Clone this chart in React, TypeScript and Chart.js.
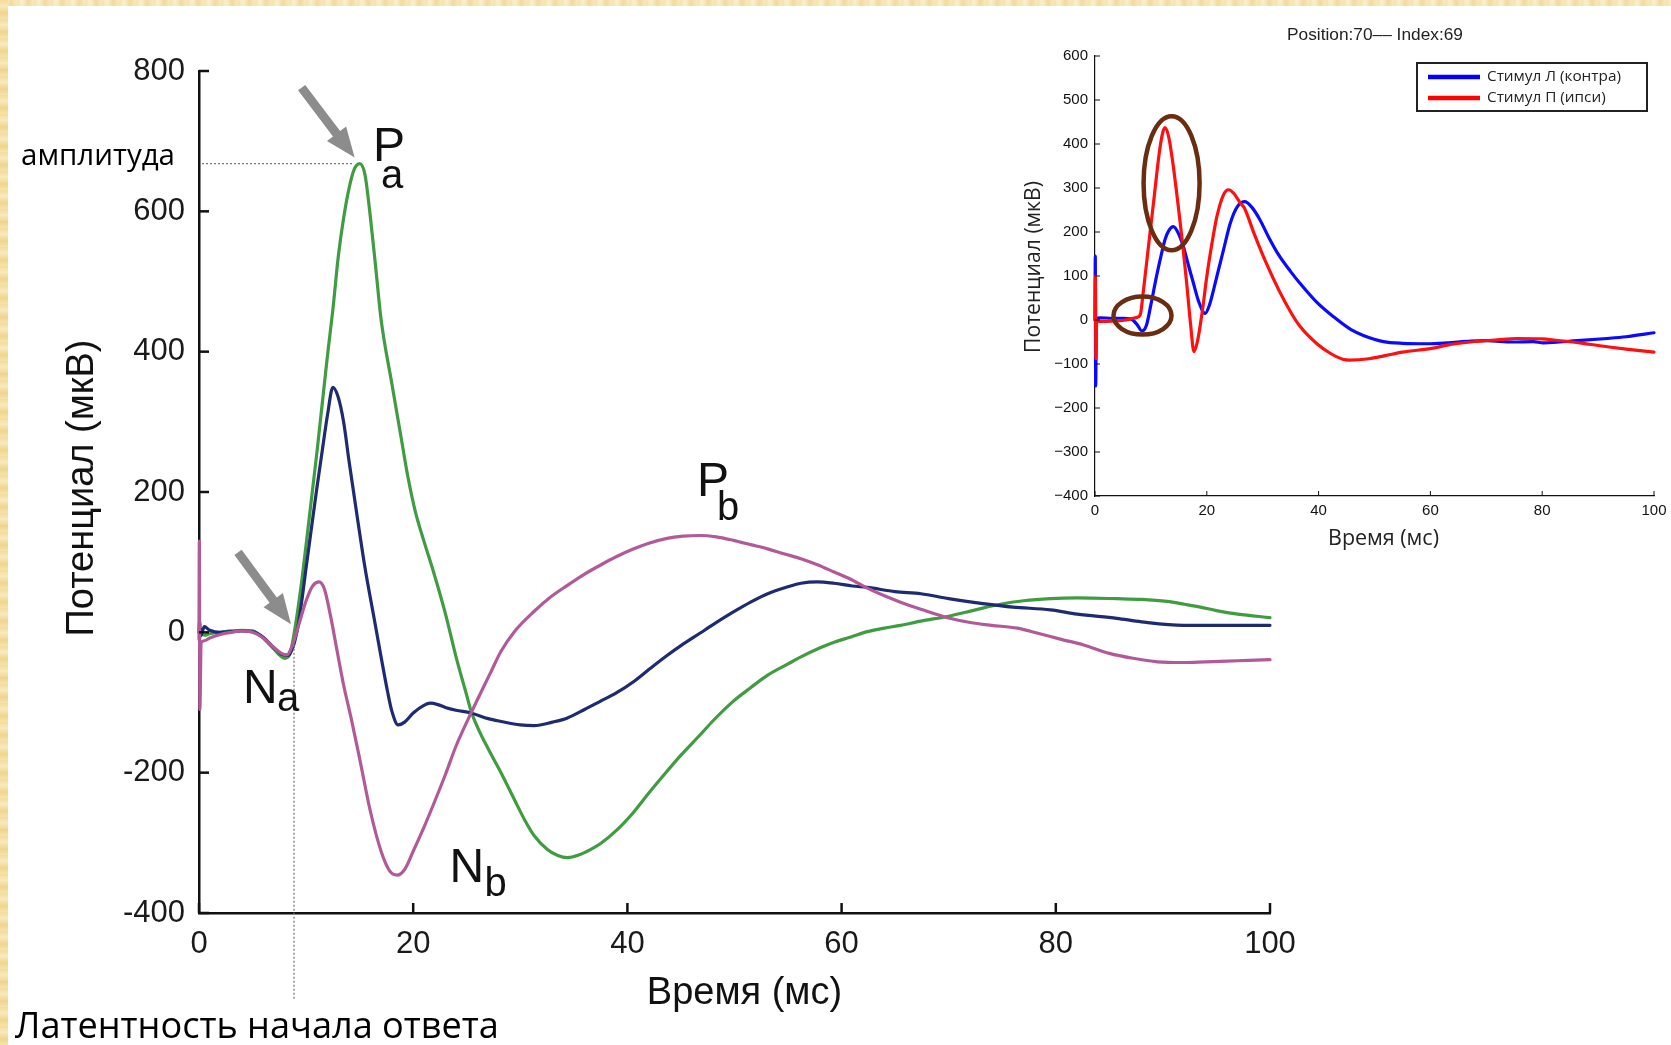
import React, { useEffect, useRef } from 'react';
import { Chart, registerables } from 'chart.js';

Chart.register(...registerables);

const HELV = '"Liberation Sans", Arial, Helvetica, sans-serif';
const OFFICE = '"Open Sans", "Noto Sans", sans-serif';

// ---------------- MAIN CHART DATA ----------------
const mainXTicks = [0, 20, 40, 60, 80, 100];
const mainYTicks = [-400, -200, 0, 200, 400, 600, 800];

const greenT = [0, 0.5, 1, 2, 3, 4, 5, 5.5, 6, 7, 7.5, 8, 8.5, 8.9, 9.5, 10, 11, 12, 12.5, 13, 13.5, 14, 14.5, 15, 15.5, 16, 16.5, 17, 18, 18.8, 19.5, 20.2, 21, 21.9, 23, 24, 25, 25.4, 26, 27, 28.2, 29.5, 30.5, 31.3, 32.5, 33.5, 34.4, 35.5, 36.5, 37.5, 39, 40.6, 42, 43.7, 45, 46.8, 48, 49.9, 51.5, 53.1, 55, 56.2, 58, 59.3, 60.8, 62.4, 64, 65.5, 67.4, 70, 72.5, 74.8, 77, 79.5, 82, 85.7, 88, 90.4, 92, 93.5, 95, 97, 100];
const greenV = [0, -4, -2, 0, 2, 3, 2, -2, -8, -24, -32, -37, -30, 0, 62, 125, 255, 395, 460, 535, 590, 632, 660, 668, 652, 592, 520, 446, 355, 284, 222, 172, 130, 86, 27, -35, -90, -112, -135, -166, -200, -240, -270, -290, -309, -318, -321, -317, -310, -301, -282, -256, -229, -198, -175, -146, -126, -98, -79, -61, -45, -35, -22, -14, -7, 1, 6, 10, 16, 23, 32, 40, 45, 48, 49, 48, 47, 44, 40, 36, 31, 26, 21];

const blueT = [0, 0.05, 0.15, 0.5, 1, 2, 3, 4, 5, 6, 7, 7.7, 8.3, 8.8, 9.2, 9.6, 10, 10.6, 11, 11.5, 12, 12.5, 13, 13.5, 14, 14.8, 15.5, 16.35, 17, 17.6, 18, 18.6, 19.2, 20, 21, 21.6, 22.3, 23, 24, 25.4, 27, 28.2, 30, 31.3, 33, 34.4, 36, 37.5, 39, 40.6, 42, 43.7, 45, 46.8, 48, 49.9, 51.5, 53.1, 55, 56.2, 57.7, 59.3, 61, 62.4, 65, 67.4, 70, 73.2, 76, 79.5, 82, 85.7, 88, 91.9, 95, 100];
const blueV = [0, 15, -5, 8, 3, 0, 1, 2, 1, -7, -22, -31, -33, -20, 5, 45, 92, 160, 205, 258, 310, 349, 335, 300, 245, 162, 92, 20, -35, -84, -112, -132, -128, -115, -104, -101, -103, -107, -111, -115, -123, -127, -132, -133, -128, -122, -110, -98, -86, -70, -53, -33, -19, -1, 11, 29, 43, 55, 65, 70, 72, 70, 66, 64, 58, 55, 48, 41, 36, 32, 26, 20, 15, 10, 10, 10];

const purpleT = [0, 0.03, 0.08, 0.2, 0.5, 1, 2, 3, 4, 5, 6, 7, 7.7, 8.2, 8.8, 9.4, 10, 10.6, 11.2, 11.7, 12.3, 12.9, 13.5, 14.2, 15, 16, 17, 17.8, 18.5, 19.2, 20, 21, 21.9, 23, 24, 25.4, 26.5, 27.3, 28.2, 29.5, 31.3, 32.8, 34.4, 36, 37.5, 39, 40.6, 42, 43.7, 45.2, 46.8, 48.3, 49.9, 51.5, 53.1, 54.6, 56.2, 57.8, 59.3, 60.8, 62.4, 64, 65.5, 67.4, 70.1, 72, 74, 76.4, 78.5, 80.5, 82.6, 85, 87.2, 89.5, 91.9, 94, 96, 98, 100];
const purpleV = [-10, 130, -110, -15, -12, -8, -3, 0, 2, 0, -8, -22, -30, -32, -15, 15, 45, 66, 72, 62, 22, -27, -75, -122, -180, -255, -312, -340, -346, -338, -312, -278, -245, -203, -162, -115, -80, -55, -27, 2, 30, 50, 67, 83, 96, 108, 119, 127, 134, 137, 138, 136, 131, 125, 119, 112, 105, 96, 86, 76, 63, 52, 43, 33, 20, 14, 10, 6, -2, -10, -18, -30, -37, -42, -43, -42, -41, -40, -39];

const latencyTime = 8.87;

// ---------------- INSET DATA ----------------
const insetXTicks = [0, 20, 40, 60, 80, 100];
const insetYTicks = [-400, -300, -200, -100, 0, 100, 200, 300, 400, 500, 600];

const contraT = [0, 0.05, 0.12, 0.25, 1, 3, 5, 6.5, 7.5, 8.4, 9.2, 10, 11, 11.8, 12.5, 13.2, 14, 14.8, 15.8, 16.7, 17.6, 18.6, 19.7, 20.5, 21.2, 21.8, 23, 24.2, 25.5, 26.8, 28, 29.5, 31, 32.8, 35, 36.7, 39.7, 42.6, 45.8, 48, 51.6, 55, 59.5, 63, 67.2, 70, 74.8, 78.4, 80.2, 86.3, 91.6, 95, 100];
const contraV = [0, 145, -150, 3, 5, 4, 4, 2, -10, -25, -12, 35, 99, 145, 182, 203, 212, 200, 167, 125, 84, 40, 15, 35, 68, 99, 160, 220, 258, 269, 257, 228, 190, 149, 110, 83, 40, 8, -22, -35, -49, -53, -54, -52, -48, -47, -50, -49, -52, -47, -42, -38, -29];

const ipsiT = [0, 0.08, 0.15, 0.3, 2, 4, 5.5, 6.5, 7.5, 8.1, 8.6, 9.5, 10.5, 11.5, 12.1, 12.5, 13.2, 14, 14.9, 15.7, 16.4, 17.1, 17.7, 18.3, 19.2, 20, 21, 21.8, 23, 23.9, 24.8, 26, 26.7, 28.5, 30.5, 33, 35.1, 36.7, 39.7, 42, 44.3, 45.6, 49, 51.9, 55, 60.5, 63, 67.2, 72, 75.4, 80, 82.4, 87.3, 90, 95, 100];
const ipsiV = [0, 100, -88, -3, -3, -2, 0, 3, 6, 12, 60, 160, 270, 380, 425, 437, 415, 350, 258, 170, 84, -10, -72, -50, 20, 99, 180, 235, 285, 296, 288, 266, 255, 195, 133, 65, 16, -15, -54, -75, -89, -91, -88, -81, -73, -64, -57, -50, -45, -42, -43, -46, -53, -58, -66, -73];

const insetTitle = 'Position:70–– Index:69';
const legendLabels = ['Стимул Л (контра)', 'Стимул П (ипси)'];

// ---------------- helpers ----------------
const pts = (t: number[], v: number[]) => t.map((x, i) => ({ x, y: v[i] }));

function line(ctx: any, x1: number, y1: number, x2: number, y2: number) {
  ctx.beginPath();
  ctx.moveTo(x1, y1);
  ctx.lineTo(x2, y2);
  ctx.stroke();
}

function fitSize(ctx: any, text: string, family: string, target: number, weight = 'normal') {
  ctx.font = `${weight} 100px ${family}`;
  const w = ctx.measureText(text).width;
  return w > 0 ? (100 * target) / w : 20;
}

function arrow(ctx: any, x1: number, y1: number, x2: number, y2: number, color: string) {
  const dx = x2 - x1, dy = y2 - y1;
  const L = Math.hypot(dx, dy);
  const ux = dx / L, uy = dy / L;
  const nx = -uy, ny = ux;
  const hl = 30, hw = 12, sw = 4.5;
  const bx = x2 - ux * hl, by = y2 - uy * hl;
  ctx.beginPath();
  ctx.moveTo(x1 + nx * sw, y1 + ny * sw);
  ctx.lineTo(bx + nx * sw, by + ny * sw);
  ctx.lineTo(bx + nx * hw, by + ny * hw);
  ctx.lineTo(x2, y2);
  ctx.lineTo(bx - nx * hw, by - ny * hw);
  ctx.lineTo(bx - nx * sw, by - ny * sw);
  ctx.lineTo(x1 - nx * sw, y1 - ny * sw);
  ctx.closePath();
  ctx.fillStyle = color;
  ctx.fill();
}

function subLabel(ctx: any, x: number, y: number, main: string, sub: string, sdx: number, sdy: number) {
  ctx.fillStyle = '#111';
  ctx.textAlign = 'left';
  ctx.textBaseline = 'alphabetic';
  ctx.font = `48px ${HELV}`;
  ctx.fillText(main, x, y);
  ctx.font = `40px ${HELV}`;
  ctx.fillText(sub, x + sdx, y + sdy);
}

// ---------------- plugins ----------------
const mainDeco = {
  id: 'mainDeco',
  afterDraw(chart: any) {
    const { ctx, chartArea: ca } = chart;
    const xs = chart.scales.x, ys = chart.scales.y;
    const X = (t: number) => xs.getPixelForValue(t);
    const Y = (v: number) => ys.getPixelForValue(v);
    ctx.save();
    // inward ticks
    ctx.strokeStyle = '#111';
    ctx.lineWidth = 2.5;
    for (const v of mainYTicks) line(ctx, ca.left, Y(v), ca.left + 10, Y(v));
    for (const t of mainXTicks) line(ctx, X(t), ca.bottom, X(t), ca.bottom - 10);

    // amplitude: peak of the green trace
    let pi = 0;
    greenV.forEach((v, i) => { if (v > greenV[pi]) pi = i; });
    const ampV = greenV[pi], ampT = greenT[pi];
    ctx.strokeStyle = '#7a7a7a';
    ctx.lineWidth = 1.3;
    ctx.setLineDash([2, 2]);
    line(ctx, ca.left + 3, Y(ampV), X(ampT) - 7, Y(ampV));
    line(ctx, X(latencyTime), Y(-12), X(latencyTime), ca.bottom + 87);
    ctx.setLineDash([]);

    // arrows
    const px = X(ampT), py = Y(ampV);
    arrow(ctx, px - 58, py - 76, px - 5, py - 6, '#8c8c8c');
    const lx = X(latencyTime), ly = Y(0);
    arrow(ctx, lx - 56, ly - 80, lx - 3, ly - 8, '#8c8c8c');

    // component labels
    subLabel(ctx, X(16.25), Y(672), 'P', 'a', 8, 27);
    subLabel(ctx, X(4.1), Y(-100), 'N', 'a', 34, 8);
    subLabel(ctx, X(46.5), Y(194), 'P', 'b', 20, 24);
    subLabel(ctx, X(23.4), Y(-356), 'N', 'b', 35, 14);

    // axis titles
    ctx.fillStyle = '#111';
    ctx.font = `38px ${HELV}`;
    ctx.textAlign = 'center';
    ctx.textBaseline = 'middle';
    ctx.fillText('Время (мс)', X(50) + 10, ca.bottom + 81);
    ctx.save();
    ctx.translate(83, (ca.top + ca.bottom) / 2 - 4);
    ctx.rotate(-Math.PI / 2);
    ctx.fillText('Потенциал (мкВ)', 0, 0);
    ctx.restore();

    // office-style annotations
    const s1 = fitSize(ctx, 'амплитуда', OFFICE, 154);
    ctx.font = `${s1}px ${OFFICE}`;
    ctx.textAlign = 'right';
    ctx.textBaseline = 'alphabetic';
    ctx.fillStyle = '#000';
    ctx.fillText('амплитуда', ca.left - 24, Y(ampV) + 1);
    const s2 = fitSize(ctx, 'Латентность начала ответа', OFFICE, 484);
    ctx.font = `${s2}px ${OFFICE}`;
    ctx.textAlign = 'left';
    ctx.fillText('Латентность начала ответа', 15, 1038);
    ctx.restore();
  },
};

const insetDeco = {
  id: 'insetDeco',
  afterDraw(chart: any) {
    const { ctx, chartArea: ca } = chart;
    const xs = chart.scales.x, ys = chart.scales.y;
    const X = (t: number) => xs.getPixelForValue(t);
    const Y = (v: number) => ys.getPixelForValue(v);
    ctx.save();
    ctx.strokeStyle = '#111';
    ctx.lineWidth = 1;
    for (const v of insetYTicks) line(ctx, ca.left, Y(v), ca.left + 5, Y(v));
    for (const t of insetXTicks) line(ctx, X(t), ca.bottom, X(t), ca.bottom - 5);

    // title
    const ts = fitSize(ctx, insetTitle, HELV, 176);
    ctx.font = `${ts}px ${HELV}`;
    ctx.fillStyle = '#222';
    ctx.textAlign = 'center';
    ctx.textBaseline = 'middle';
    ctx.fillText(insetTitle, 1375 - 960, 35);

    // axis titles
    const xsz = fitSize(ctx, 'Время (мс)', OFFICE, 111);
    ctx.font = `${xsz}px ${OFFICE}`;
    ctx.fillStyle = '#222';
    ctx.fillText('Время (мс)', X(50) + 9, ca.bottom + 43);
    const ysz = fitSize(ctx, 'Потенциал (мкВ)', OFFICE, 172);
    ctx.save();
    ctx.translate(ca.left - 61, (ca.top + ca.bottom) / 2 - 9);
    ctx.rotate(-Math.PI / 2);
    ctx.font = `${ysz}px ${OFFICE}`;
    ctx.fillText('Потенциал (мкВ)', 0, 0);
    ctx.restore();

    // ellipses
    ctx.strokeStyle = '#6b2d12';
    ctx.lineWidth = 4.5;
    ctx.beginPath();
    ctx.ellipse(X(13.7), Y(311), 28, 67, 0, 0, Math.PI * 2);
    ctx.stroke();
    ctx.beginPath();
    ctx.ellipse(X(8.5), Y(10), 29, 19, 0, 0, Math.PI * 2);
    ctx.stroke();

    // legend box
    const bx = ca.right - 237, by = 63, bw = 230, bh = 48;
    ctx.fillStyle = '#fff';
    ctx.fillRect(bx, by, bw, bh);
    ctx.strokeStyle = '#222';
    ctx.lineWidth = 2;
    ctx.strokeRect(bx, by, bw, bh);
    const colors = ['#0000ff', '#ff0000'];
    const rows = [by + 14, by + 35];
    const ls = fitSize(ctx, legendLabels[0], OFFICE, 134);
    legendLabels.forEach((lab, i) => {
      ctx.strokeStyle = colors[i];
      ctx.lineWidth = 4.5;
      line(ctx, bx + 11, rows[i], bx + 63, rows[i]);
      ctx.font = `${ls}px ${OFFICE}`;
      ctx.fillStyle = '#222';
      ctx.textAlign = 'left';
      ctx.textBaseline = 'middle';
      ctx.fillText(lab, bx + 70, rows[i]);
    });
    ctx.restore();
  },
};

function lineDs(label: string, t: number[], v: number[], color: string, width: number) {
  return {
    label,
    data: pts(t, v),
    borderColor: color,
    backgroundColor: color,
    borderWidth: width,
    pointRadius: 0,
    cubicInterpolationMode: 'monotone',
    borderJoinStyle: 'round',
    borderCapStyle: 'round',
    fill: false,
    clip: false,
  };
}

function mainConfig(): any {
  return {
    type: 'line',
    data: {
      datasets: [
        lineDs('purple', purpleT, purpleV, '#b25a98', 3.2),
        lineDs('blue', blueT, blueV, '#1e2b70', 3.2),
        lineDs('green', greenT, greenV, '#3f9c40', 3.2),
      ],
    },
    options: {
      responsive: false,
      devicePixelRatio: 1,
      animation: false,
      events: [],
      layout: { padding: { left: 0, top: 71, right: 45, bottom: 0 } },
      plugins: { legend: { display: false }, tooltip: { enabled: false }, title: { display: false } },
      scales: {
        x: {
          type: 'linear',
          min: 0,
          max: 100,
          afterBuildTicks: (s: any) => { s.ticks = mainXTicks.map((value) => ({ value })); },
          afterFit: (s: any) => { s.height = 132; },
          ticks: { font: { family: HELV, size: 31 }, color: '#1a1a1a', padding: 13, maxRotation: 0, autoSkip: false },
          grid: { display: false, drawTicks: false },
          border: { display: true, color: '#111', width: 2.5 },
        },
        y: {
          type: 'linear',
          min: -400,
          max: 800,
          afterBuildTicks: (s: any) => { s.ticks = mainYTicks.map((value) => ({ value })); },
          afterFit: (s: any) => { s.width = 199; },
          ticks: { font: { family: HELV, size: 31 }, color: '#1a1a1a', padding: 14, callback: (v: any) => String(v) },
          grid: { display: false, drawTicks: false },
          border: { display: true, color: '#111', width: 2.5 },
        },
      },
    },
    plugins: [mainDeco],
  };
}

function insetConfig(): any {
  return {
    type: 'line',
    data: {
      datasets: [
        lineDs(legendLabels[1], ipsiT, ipsiV, '#ff1010', 3.2),
        lineDs(legendLabels[0], contraT, contraV, '#0a0aff', 3.2),
      ],
    },
    options: {
      responsive: false,
      devicePixelRatio: 1,
      animation: false,
      events: [],
      layout: { padding: { left: 0, top: 56, right: 22, bottom: 0 } },
      plugins: { legend: { display: false }, tooltip: { enabled: false }, title: { display: false } },
      scales: {
        x: {
          type: 'linear',
          min: 0,
          max: 100,
          afterBuildTicks: (s: any) => { s.ticks = insetXTicks.map((value) => ({ value })); },
          afterFit: (s: any) => { s.height = 64; },
          ticks: { font: { family: HELV, size: 15 }, color: '#111', padding: 6, maxRotation: 0, autoSkip: false },
          grid: { display: false, drawTicks: false },
          border: { display: true, color: '#111', width: 1.2 },
        },
        y: {
          type: 'linear',
          min: -400,
          max: 600,
          afterBuildTicks: (s: any) => { s.ticks = insetYTicks.map((value) => ({ value })); },
          afterFit: (s: any) => { s.width = 135; },
          ticks: {
            font: { family: HELV, size: 15 },
            color: '#111',
            padding: 7,
            autoSkip: false,
            callback: (v: any) => (v < 0 ? '−' + Math.abs(v) : String(v)),
          },
          grid: { display: false, drawTicks: false },
          border: { display: true, color: '#111', width: 1.2 },
        },
      },
    },
    plugins: [insetDeco],
  };
}

export default function App() {
  const mainRef = useRef<HTMLCanvasElement>(null);
  const insetRef = useRef<HTMLCanvasElement>(null);

  useEffect(() => {
    const c1 = new Chart(mainRef.current as HTMLCanvasElement, mainConfig());
    const c2 = new Chart(insetRef.current as HTMLCanvasElement, insetConfig());
    return () => {
      c1.destroy();
      c2.destroy();
    };
  }, []);

  const topBand =
    'repeating-linear-gradient(90deg, #f5e2ab 0px, #faefcd 5px, #f1da9e 11px, #f8e9bf 17px)';
  const leftBand =
    'repeating-linear-gradient(180deg, #f3dc98 0px, #f8e9bd 6px, #efd58c 13px, #f6e3ad 19px)';

  return (
    <div style={{ position: 'fixed', left: 0, top: 0, width: 1671, height: 1045, background: '#fff', overflow: 'hidden' }}>
      <div style={{ position: 'absolute', left: 0, top: 0, width: 1671, height: 6, background: topBand }} />
      <div style={{ position: 'absolute', left: 0, top: 0, width: 8, height: 1045, background: leftBand }} />
      <canvas
        ref={mainRef}
        width={1315}
        height={1045}
        style={{ position: 'absolute', left: 0, top: 0, width: 1315, height: 1045 }}
      />
      <canvas
        ref={insetRef}
        width={716}
        height={560}
        style={{ position: 'absolute', left: 960, top: 0, width: 716, height: 560 }}
      />
    </div>
  );
}
